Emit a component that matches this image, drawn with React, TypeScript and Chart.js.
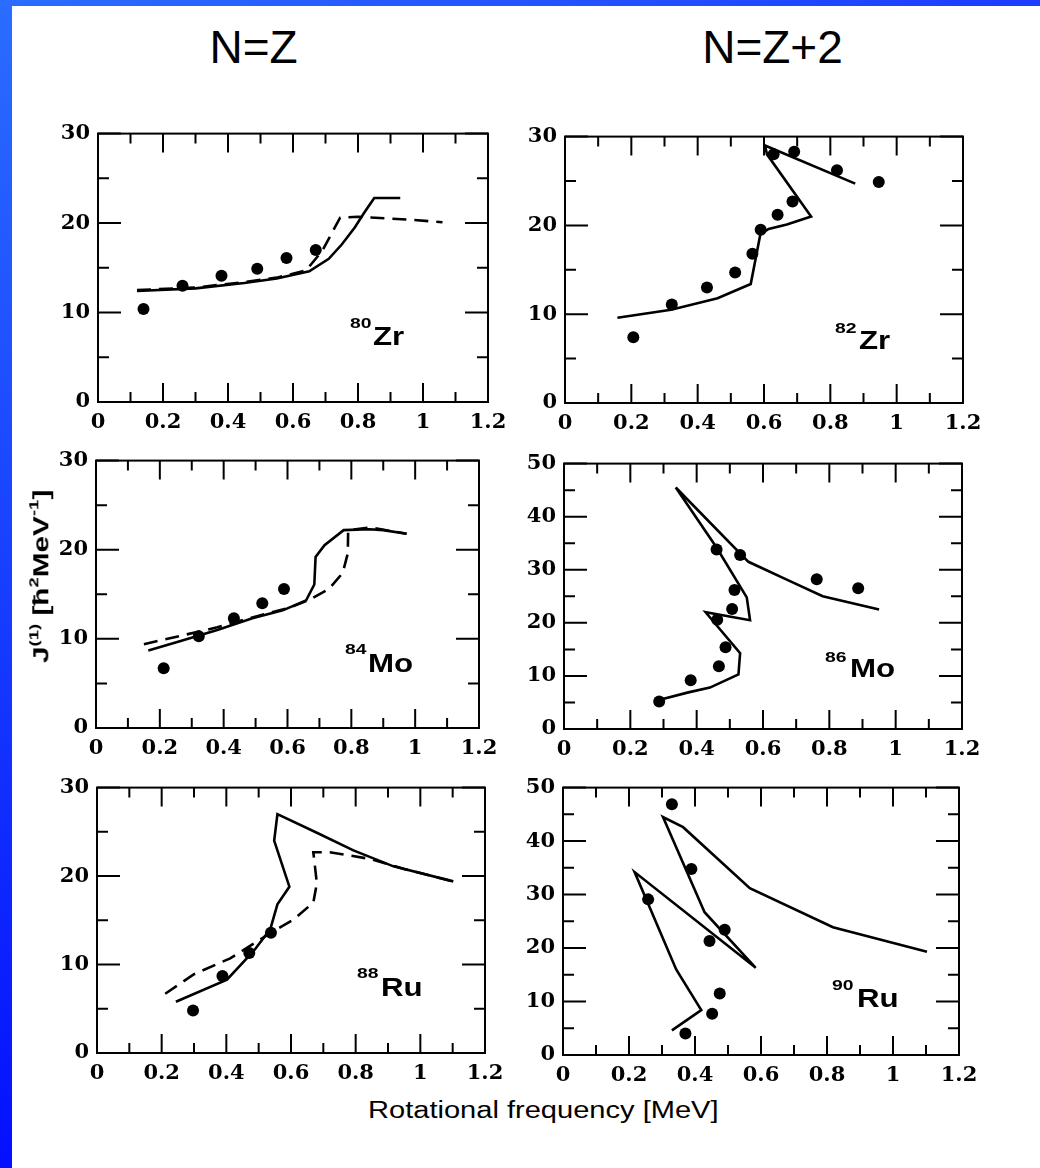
import React, { useEffect, useLayoutEffect, useRef, useState } from "react";
import { Chart, registerables } from "chart.js";

Chart.register(...registerables);

type Pt = [number, number];

// ---- axis ticks ----
const X_TICKS = [0, 0.2, 0.4, 0.6, 0.8, 1, 1.2];
const Y_TICKS_30 = [0, 10, 20, 30];
const Y_TICKS_50 = [0, 10, 20, 30, 40, 50];

// ---- texts ----
const TITLE_LEFT = "N=Z";
const TITLE_RIGHT = "N=Z+2";
const X_TITLE = "Rotational frequency [MeV]";

// ---- 80Zr ----
const ZR80_EXP: Pt[] = [[0.14, 10.4], [0.26, 13.0], [0.38, 14.1], [0.49, 14.9], [0.58, 16.1], [0.67, 17.0]];
const ZR80_SOLID: Pt[] = [[0.12, 12.4], [0.3, 12.7], [0.45, 13.3], [0.55, 13.8], [0.65, 14.6], [0.71, 16.0], [0.75, 17.6], [0.79, 19.5], [0.82, 21.2], [0.85, 22.8], [0.93, 22.8]];
const ZR80_DASHED: Pt[] = [[0.12, 12.5], [0.3, 12.8], [0.45, 13.4], [0.55, 13.9], [0.64, 14.7], [0.69, 16.9], [0.745, 20.6], [0.8, 20.7], [0.95, 20.4], [1.06, 20.1]];

// ---- 82Zr ----
const ZR82_EXP: Pt[] = [[0.206, 7.4], [0.322, 11.1], [0.428, 13.0], [0.513, 14.7], [0.565, 16.8], [0.59, 19.5], [0.641, 21.2], [0.686, 22.7], [0.629, 28.0], [0.691, 28.3], [0.82, 26.2], [0.946, 24.9]];
const ZR82_SOLID: Pt[] = [[0.158, 9.6], [0.32, 10.5], [0.46, 11.8], [0.56, 13.4], [0.589, 19.0], [0.614, 19.6], [0.669, 20.1], [0.742, 21.0], [0.609, 28.0], [0.603, 29.0], [0.875, 24.7]];

// ---- 84Mo ----
const MO84_EXP: Pt[] = [[0.212, 6.7], [0.322, 10.3], [0.432, 12.3], [0.521, 14.0], [0.589, 15.6]];
const MO84_SOLID: Pt[] = [[0.164, 8.7], [0.26, 9.7], [0.38, 11.0], [0.49, 12.3], [0.585, 13.2], [0.658, 14.3], [0.684, 16.1], [0.688, 19.2], [0.716, 20.5], [0.776, 22.2], [0.856, 22.3], [0.9, 22.2], [0.973, 21.8]];
const MO84_DASHED: Pt[] = [[0.15, 9.4], [0.26, 10.3], [0.38, 11.3], [0.49, 12.4], [0.606, 13.5], [0.67, 14.4], [0.73, 15.6], [0.773, 17.4], [0.789, 19.6], [0.79, 22.2], [0.86, 22.5], [0.973, 21.8]];

// ---- 86Mo ----
const MO86_EXP: Pt[] = [[0.287, 5.2], [0.382, 9.2], [0.467, 11.8], [0.487, 15.4], [0.462, 20.6], [0.507, 22.6], [0.514, 26.2], [0.46, 33.8], [0.531, 32.8], [0.762, 28.2], [0.887, 26.5]];
const MO86_SOLID: Pt[] = [[0.289, 5.5], [0.375, 6.9], [0.44, 7.8], [0.526, 10.3], [0.531, 14.3], [0.427, 22.0], [0.561, 20.5], [0.551, 24.8], [0.46, 34.2], [0.337, 45.5], [0.556, 31.5], [0.67, 28.2], [0.78, 25.0], [0.95, 22.5]];

// ---- 88Ru ----
const RU88_EXP: Pt[] = [[0.297, 4.8], [0.388, 8.7], [0.471, 11.3], [0.538, 13.6]];
const RU88_SOLID: Pt[] = [[0.244, 5.8], [0.402, 8.3], [0.484, 11.5], [0.536, 14.0], [0.558, 16.8], [0.595, 18.8], [0.548, 24.0], [0.558, 27.0], [0.68, 24.9], [0.793, 22.9], [0.917, 21.1], [1.102, 19.4]];
const RU88_DASHED: Pt[] = [[0.211, 6.7], [0.3, 8.9], [0.412, 10.7], [0.525, 13.3], [0.608, 15.1], [0.669, 17.0], [0.68, 19.2], [0.669, 22.7], [0.72, 22.7], [0.85, 21.9], [0.95, 20.8], [1.1, 19.4]];

// ---- 90Ru ----
const RU90_EXP: Pt[] = [[0.33, 46.9], [0.389, 34.8], [0.258, 29.1], [0.444, 21.3], [0.49, 23.4], [0.475, 11.5], [0.452, 7.7], [0.371, 4.0]];
const RU90_SOLID: Pt[] = [[0.33, 4.6], [0.419, 8.4], [0.343, 16.0], [0.217, 34.2], [0.584, 16.3], [0.429, 26.7], [0.303, 44.5], [0.364, 42.6], [0.566, 31.2], [0.818, 23.9], [1.103, 19.3]];

interface PanelSpec {
  key: string;
  mass: string;
  el: string;
  exp: Pt[];
  solid: Pt[];
  dashed?: Pt[];
  yTicks: number[];
}

const PANELS: PanelSpec[] = [
  { key: "zr80", mass: "80", el: "Zr", exp: ZR80_EXP, solid: ZR80_SOLID, dashed: ZR80_DASHED, yTicks: Y_TICKS_30 },
  { key: "zr82", mass: "82", el: "Zr", exp: ZR82_EXP, solid: ZR82_SOLID, yTicks: Y_TICKS_30 },
  { key: "mo84", mass: "84", el: "Mo", exp: MO84_EXP, solid: MO84_SOLID, dashed: MO84_DASHED, yTicks: Y_TICKS_30 },
  { key: "mo86", mass: "86", el: "Mo", exp: MO86_EXP, solid: MO86_SOLID, yTicks: Y_TICKS_50 },
  { key: "ru88", mass: "88", el: "Ru", exp: RU88_EXP, solid: RU88_SOLID, dashed: RU88_DASHED, yTicks: Y_TICKS_30 },
  { key: "ru90", mass: "90", el: "Ru", exp: RU90_EXP, solid: RU90_SOLID, yTicks: Y_TICKS_50 },
];

// ---- layout (pixels) ----
const LAYOUT: Record<string, { area: [number, number, number, number]; sup: [number, number]; elPos: [number, number] }> = {
  zr80: { area: [98, 129, 488, 402], sup: [350, 328], elPos: [373, 345] },
  zr82: { area: [565, 132, 963, 403], sup: [835, 333.5], elPos: [859, 349] },
  mo84: { area: [96, 456, 479, 728], sup: [345, 654.5], elPos: [368, 672] },
  mo86: { area: [564, 459, 962, 729], sup: [825, 662], elPos: [850, 677] },
  ru88: { area: [97, 783, 485, 1053], sup: [357, 978], elPos: [381, 996] },
  ru90: { area: [563, 783, 959, 1055], sup: [832, 990.5], elPos: [857, 1007] },
};

const AXIS_W = 55;
const AXIS_H = 40;
const PAD_T = 16;
const PAD_R = 30;
const SANS = '"Liberation Sans", Arial, Helvetica, sans-serif';
const BASE = 0.8465; // baseline offset (em) for Liberation Sans with line-height 1

const frameTicks = {
  id: "frameTicks",
  beforeDatasetsDraw(chart: any) {
    const { ctx, chartArea: a, scales } = chart;
    const xs = scales.x;
    const ys = scales.y;
    ctx.save();
    ctx.strokeStyle = "#000";
    ctx.lineWidth = 2;
    ctx.strokeRect(a.left, a.top, a.right - a.left, a.bottom - a.top);
    ctx.beginPath();
    const xv: number[] = xs.ticks.map((t: any) => t.value);
    const yv: number[] = ys.ticks.map((t: any) => t.value);
    const dx = (v: number, len: number) => {
      const p = xs.getPixelForValue(v);
      ctx.moveTo(p, a.bottom);
      ctx.lineTo(p, a.bottom - len);
      ctx.moveTo(p, a.top);
      ctx.lineTo(p, a.top + len);
    };
    const dy = (v: number, len: number) => {
      const p = ys.getPixelForValue(v);
      ctx.moveTo(a.left, p);
      ctx.lineTo(a.left + len, p);
      ctx.moveTo(a.right, p);
      ctx.lineTo(a.right - len, p);
    };
    xv.forEach((v, i) => {
      dx(v, 19);
      if (i < xv.length - 1) dx((v + xv[i + 1]) / 2, 10);
    });
    yv.forEach((v, i) => {
      dy(v, 23);
      if (i < yv.length - 1) dy((v + yv[i + 1]) / 2, 11);
    });
    ctx.stroke();
    ctx.restore();
  },
};

const toXY = (a: Pt[]) => a.map(([x, y]) => ({ x, y }));

function Panel({ spec }: { spec: PanelSpec }) {
  const ref = useRef<HTMLCanvasElement>(null);
  const lay = LAYOUT[spec.key];
  const [L, T, R, B] = lay.area;
  const W = R - L + AXIS_W + PAD_R;
  const H = B - T + PAD_T + AXIS_H;

  useEffect(() => {
    if (!ref.current) return;
    const datasets: any[] = [
      {
        label: "exp",
        data: toXY(spec.exp),
        showLine: false,
        pointRadius: 6,
        pointHoverRadius: 6,
        pointBackgroundColor: "#000",
        pointBorderWidth: 0,
      },
      {
        label: "solid",
        data: toXY(spec.solid),
        showLine: true,
        pointRadius: 0,
        borderColor: "#000",
        borderWidth: 2.6,
        tension: 0,
        fill: false,
      },
    ];
    if (spec.dashed) {
      datasets.push({
        label: "dashed",
        data: toXY(spec.dashed),
        showLine: true,
        pointRadius: 0,
        borderColor: "#000",
        borderWidth: 2.6,
        borderDash: [14, 8],
        tension: 0,
        fill: false,
      });
    }
    const yMax = spec.yTicks[spec.yTicks.length - 1];
    const tickFont = { family: '"DejaVu Serif", "Liberation Serif", serif', size: 21, weight: "bold" };
    const chart = new Chart(ref.current, {
      type: "scatter",
      data: { datasets },
      options: {
        animation: false,
        responsive: false,
        devicePixelRatio: 1,
        layout: { padding: { left: 0, top: PAD_T, right: PAD_R, bottom: 0 } },
        plugins: { legend: { display: false }, tooltip: { enabled: false } },
        scales: {
          x: {
            type: "linear",
            min: X_TICKS[0],
            max: X_TICKS[X_TICKS.length - 1],
            grid: { display: false, drawTicks: false },
            border: { display: false },
            afterBuildTicks: (s: any) => {
              s.ticks = X_TICKS.map((v) => ({ value: v }));
            },
            afterFit: (s: any) => {
              s.height = AXIS_H;
            },
            ticks: {
              color: "#000",
              font: tickFont,
              padding: 8,
              maxRotation: 0,
              autoSkip: false,
              callback: (v: any) => String(v),
            },
          },
          y: {
            type: "linear",
            min: spec.yTicks[0],
            max: yMax,
            grid: { display: false, drawTicks: false },
            border: { display: false },
            afterBuildTicks: (s: any) => {
              s.ticks = spec.yTicks.map((v) => ({ value: v }));
            },
            afterFit: (s: any) => {
              s.width = AXIS_W;
            },
            ticks: {
              color: "#000",
              font: tickFont,
              padding: 8,
              autoSkip: false,
              callback: (v: any) => String(v),
            },
          },
        },
      } as any,
      plugins: [frameTicks],
    });
    return () => chart.destroy();
  }, [spec]);

  const supSize = 15.5;
  const elSize = 25;
  return (
    <>
      <canvas
        ref={ref}
        width={W}
        height={H}
        style={{ position: "absolute", left: L - AXIS_W, top: T - PAD_T, width: W, height: H }}
      />
      <div
        style={{
          position: "absolute",
          left: lay.sup[0],
          top: lay.sup[1] - BASE * supSize,
          fontFamily: SANS,
          fontWeight: 700,
          fontSize: supSize,
          lineHeight: 1,
          whiteSpace: "nowrap",
          transform: "scaleX(1.25)",
          transformOrigin: "0 0",
        }}
      >
        {spec.mass}
      </div>
      <div
        style={{
          position: "absolute",
          left: lay.elPos[0],
          top: lay.elPos[1] - BASE * elSize,
          fontFamily: SANS,
          fontWeight: 700,
          fontSize: elSize,
          lineHeight: 1,
          whiteSpace: "nowrap",
          transform: "scaleX(1.25)",
          transformOrigin: "0 0",
        }}
      >
        {spec.el}
      </div>
    </>
  );
}

function Stretch({
  target,
  size,
  bold,
  pre,
  children,
}: {
  target: number;
  size: number;
  bold: boolean;
  pre: string;
  children: React.ReactNode;
}) {
  const ref = useRef<HTMLSpanElement>(null);
  const [s, setS] = useState(1);
  useLayoutEffect(() => {
    const w = ref.current ? ref.current.offsetWidth : 0;
    if (w > 0) setS(target / w);
  }, [target]);
  return (
    <div
      style={{
        position: "absolute",
        left: 0,
        top: 0,
        transformOrigin: "0 0",
        transform: `${pre} scaleX(${s})`,
        fontFamily: SANS,
        fontSize: size,
        fontWeight: bold ? 700 : 400,
        lineHeight: 1,
        whiteSpace: "nowrap",
        color: "#000",
      }}
    >
      <span ref={ref} style={{ display: "inline-block" }}>
        {children}
      </span>
    </div>
  );
}

const supStyle: React.CSSProperties = { fontSize: "0.62em", position: "relative", top: "-0.75em" };

export default function App() {
  useEffect(() => {
    document.body.style.margin = "0";
  }, []);
  const titleSize = 46;
  const yTitleSize = 21.5;
  const xTitleSize = 23;
  return (
    <div
      style={{
        position: "absolute",
        left: 0,
        top: 0,
        width: 1040,
        height: 1168,
        background: "#fff",
        overflow: "hidden",
      }}
    >
      <div
        style={{
          position: "absolute",
          left: 0,
          top: 0,
          width: 1040,
          height: 6,
          background: "linear-gradient(to right, #2b6dff, #1c3cff)",
        }}
      />
      <div
        style={{
          position: "absolute",
          left: 0,
          top: 0,
          width: 12,
          height: 1168,
          background: "linear-gradient(to bottom, #2b6dff, #0410ff)",
        }}
      />
      <div
        style={{
          position: "absolute",
          left: 253.5 - 200,
          width: 400,
          top: 63.3 - BASE * titleSize,
          textAlign: "center",
          fontFamily: SANS,
          fontSize: titleSize,
          lineHeight: 1,
          color: "#000",
        }}
      >
        {TITLE_LEFT}
      </div>
      <div
        style={{
          position: "absolute",
          left: 772.5 - 200,
          width: 400,
          top: 63.3 - BASE * titleSize,
          textAlign: "center",
          fontFamily: SANS,
          fontSize: titleSize,
          lineHeight: 1,
          color: "#000",
        }}
      >
        {TITLE_RIGHT}
      </div>
      {PANELS.map((p) => (
        <Panel key={p.key} spec={p} />
      ))}
      <Stretch
        target={173}
        size={yTitleSize}
        bold={true}
        pre={`translate(${49.5 - BASE * yTitleSize}px, 663px) rotate(-90deg)`}
      >
        J<span style={supStyle}>(1)</span> [ħ<span style={supStyle}>2</span>MeV<span style={supStyle}>-1</span>]
      </Stretch>
      <Stretch
        target={350}
        size={xTitleSize}
        bold={false}
        pre={`translate(368px, ${1118.3 - BASE * xTitleSize}px)`}
      >
        {X_TITLE}
      </Stretch>
    </div>
  );
}
